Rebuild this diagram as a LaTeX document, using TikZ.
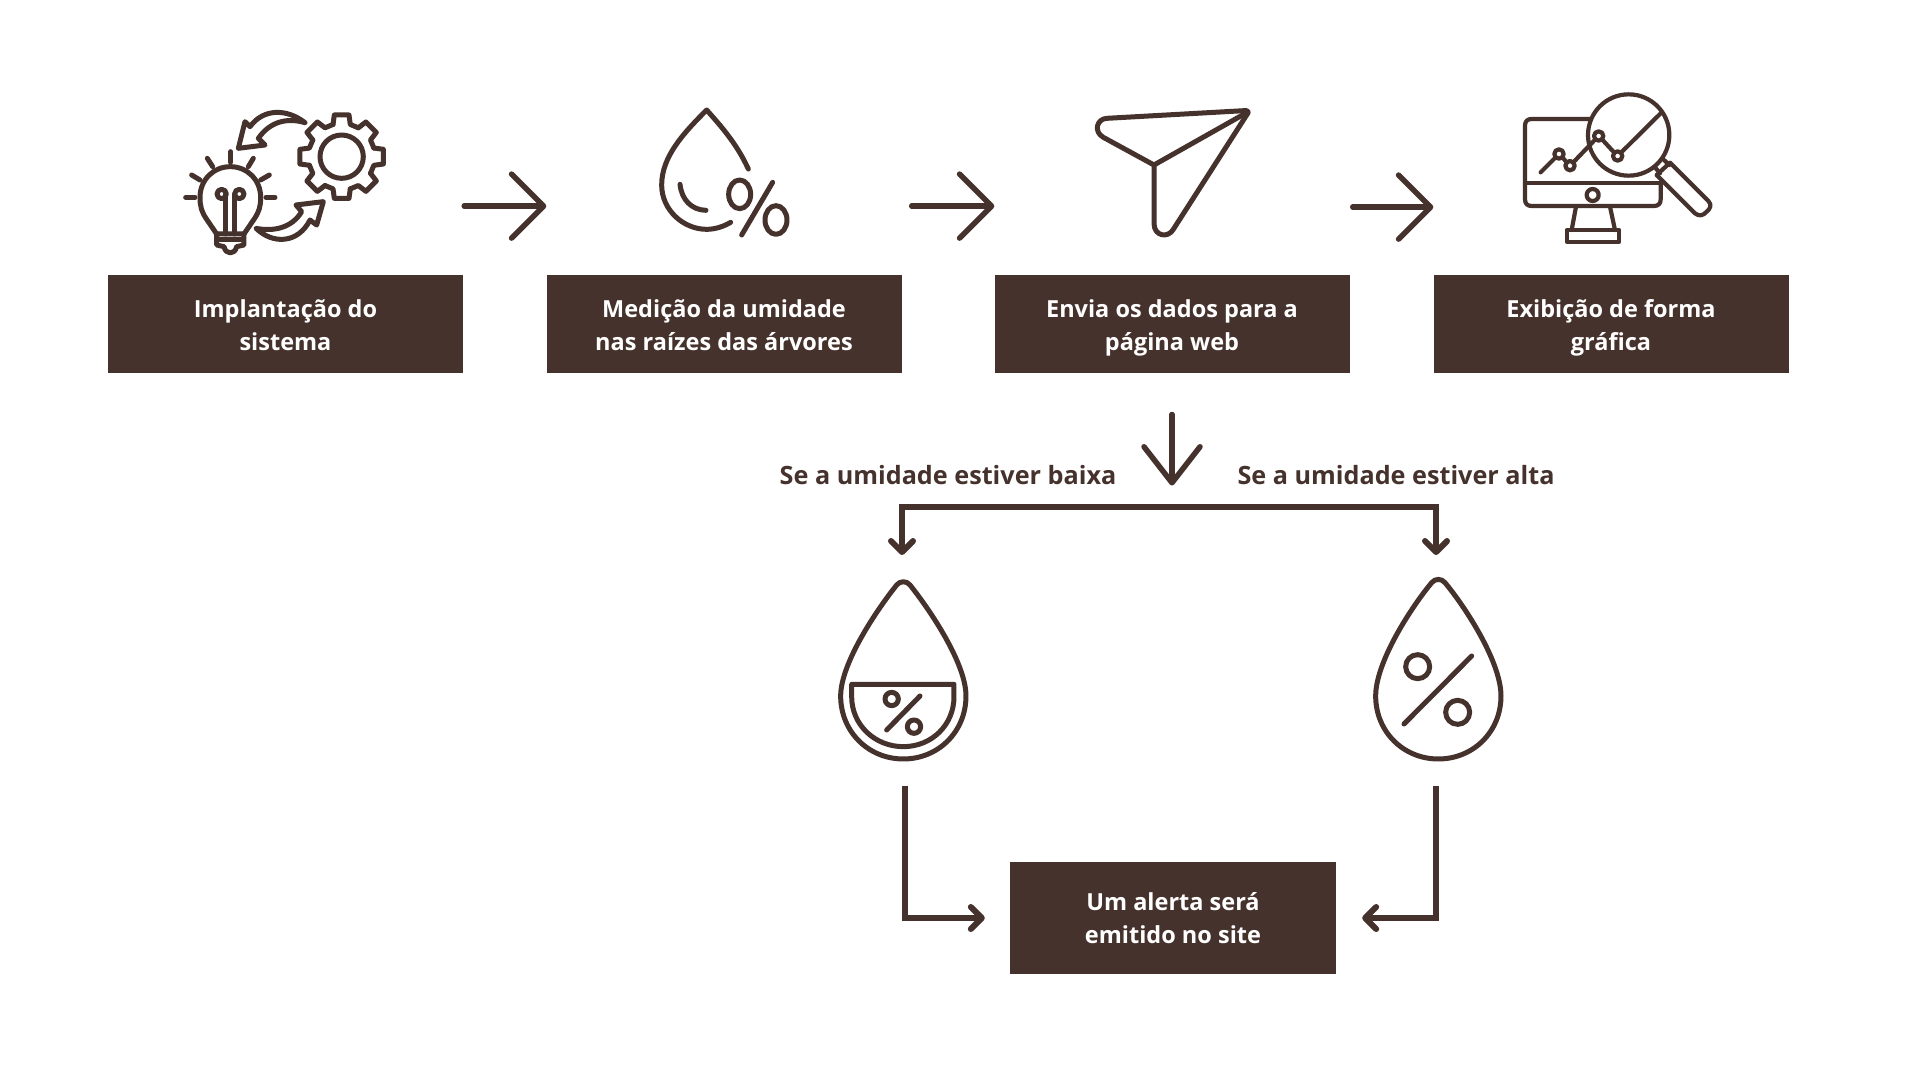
\documentclass[tikz,border=0pt]{standalone}
\usepackage{fontspec}
\setmainfont{Open Sans}
\usetikzlibrary{calc,arrows.meta}
\definecolor{cafe}{HTML}{46322C}
\def\linha{\rule[-7pt]{0pt}{32.6pt}}
\tikzset{
	passo/.style={fill=cafe, text=white, align=center, inner sep=0pt, minimum width=355pt, minimum height=98pt, font=\bfseries\fontsize{23.5}{33}\selectfont},
	rotulo/.style={text=cafe, inner sep=0pt, font=\bfseries\fontsize{25.2}{33}\selectfont},
	setaGrande/.style={draw=cafe, line width=5.5pt, line cap=round, line join=round, -{Straight Barb[length=32pt,width=64pt,line width=5.5pt,round]}},
	setaMedia/.style={draw=cafe, line width=5.5pt, line cap=round, line join=round, -{Straight Barb[length=36pt,width=56pt,line width=5.5pt,round]}},
	setaFina/.style={draw=cafe, line width=6pt, line join=miter, -{Straight Barb[length=11pt,width=22pt,line width=6pt,round]}},
	traco/.style={draw=cafe, line width=5pt, line cap=round, line join=round},
	tracoFino/.style={draw=cafe, line width=4.2pt, line cap=round, line join=round},
}
\begin{document}
\begin{tikzpicture}[x=1pt, y=-1pt]
	\useasboundingbox[fill=white] (0, 0) rectangle (1920, 1080);
	%%%%% CAIXAS %%%%%
	\node[passo] (implantacao) at (285.5, 324.3) {\linha Implantação do\\\linha sistema};
	\node[passo] (medicao) at (724, 324.3) {\linha Medição da umidade\\\linha nas raízes das árvores};
	\node[passo] (envio) at (1172, 324.3) {\linha Envia os dados para a\\\linha página web};
	\node[passo] (exibicao) at (1611, 324.3) {\linha Exibição de forma\\\linha gráfica};
	\node[passo, minimum width=326pt, minimum height=111.5pt] (alerta) at (1173, 918) {\linha Um alerta será\\\linha emitido no site};

	\node[rotulo] (baixa) at (948, 475) {Se a umidade estiver baixa};
	\node[rotulo] (alta) at (1396, 475) {Se a umidade estiver alta};

	%%%%% SETAS %%%%%
	\draw[setaGrande] ($(implantacao.north east)+(1,-69)$) -- ($(medicao.north west)+(0,-69)$);
	\draw[setaGrande] ($(medicao.north east)+(10,-69)$) -- ($(envio.north west)+(0,-69)$);
	\draw[setaGrande] ($(envio.north east)+(3,-68)$) -- ($(exibicao.north west)+(0,-68)$);
	\draw[setaMedia] ($(envio.south)+(0,41)$) -- ($(envio.south)+(0,112)$);

	\coordinate (gotaBaixa) at (905, 786);
	\coordinate (gotaAlta) at (1436, 786);
	\coordinate (ramo) at (1172, 507);
	\draw[setaFina] (ramo) -- (902, 507) -- ++(0, 48);
	\draw[setaFina] (ramo) -- (ramo -| gotaAlta) -- ++(0, 48);
	\draw[setaFina] (gotaBaixa) -- (gotaBaixa |- alerta) -- ($(alerta.west)+(-25,0)$);
	\draw[setaFina] (gotaAlta) -- (gotaAlta |- alerta) -- ($(alerta.east)+(26,0)$);

	%%%%% LAMPADA E ENGRENAGEM %%%%%
	\begin{scope}[shift={(170, 80)}, x=0.3333pt, y=-0.3333pt]
		\draw[traco] (140, 462) -- (108, 415) .. controls (95, 395) and (90, 380) .. (90, 352) .. controls (90, 300) and (130, 260) .. (181, 260) .. controls (232, 260) and (272, 300) .. (272, 352) .. controls (272, 380) and (267, 395) .. (254, 415) -- (222, 462);
		\draw[traco] (140, 462) -- (222, 462) -- (222, 495) -- (200, 500) .. controls (195, 525) and (167, 525) .. (162, 500) -- (140, 495) -- cycle;
		\draw[traco] (142, 480) -- (220, 480);
		\draw[traco] (155, 342) circle (14);
		\draw[traco] (208, 342) circle (14);
		\draw[traco] (168, 342) -- (168, 462);
		\draw[traco] (195, 342) -- (195, 462);
		\draw[traco] (47, 352) -- (75, 352);
		\draw[traco] (65, 285) -- (90, 300);
		\draw[traco] (112, 235) -- (128, 260);
		\draw[traco] (182, 215) -- (182, 247);
		\draw[traco] (250, 235) -- (235, 260);
		\draw[traco] (298, 285) -- (272, 300);
		\draw[traco] (288, 352) -- (315, 352);
		% engrenagem
		\begin{scope}[shift={(515, 230)}]
			\draw[traco] (0, 0) circle (65);
			\foreach \ang in {0, 45, ..., 315}
			{
				\draw[traco] (\ang-15:100) -- (\ang-10:127) -- (\ang+10:127) -- (\ang+15:100) -- (\ang+30:100);
			}
		\end{scope}
		% setas curvas
		\draw[traco] (405, 128) .. controls (350, 85) and (280, 85) .. (240, 140) -- (225, 125) -- (205, 205) -- (285, 195) -- (265, 175) .. controls (300, 125) and (350, 112) .. (405, 128) -- cycle;
		\draw[traco] (258, 445) .. controls (310, 495) and (385, 490) .. (420, 420) -- (440, 435) -- (460, 365) -- (378, 375) -- (395, 395) .. controls (365, 445) and (310, 455) .. (258, 445) -- cycle;
	\end{scope}

	%%%%% GOTA COM PORCENTAGEM %%%%%
	\begin{scope}[shift={(640, 90)}, x=0.3333pt, y=-0.3333pt]
		\draw[traco] (325, 237) .. controls (290, 160) and (240, 105) .. (200, 60) .. controls (130, 130) and (65, 200) .. (65, 285) .. controls (65, 360) and (130, 418) .. (200, 418) .. controls (225, 418) and (250, 410) .. (272, 397);
		\draw[traco] (120, 283) .. controls (125, 330) and (155, 360) .. (198, 361);
		\draw[traco] (299, 313) ellipse (33 and 43);
		\draw[traco] (408, 390) ellipse (33 and 43);
		\draw[traco] (398, 277) -- (305, 435);
	\end{scope}

	%%%%% AVIAO DE PAPEL %%%%%
	\begin{scope}[shift={(1090, 90)}, x=0.3333pt, y=-0.3333pt]
		\draw[traco] (462, 62) -- (50, 85) .. controls (20, 87) and (10, 125) .. (40, 142) -- (192, 225) -- (192, 400) .. controls (192, 440) and (235, 445) .. (250, 418) -- (470, 75) .. controls (480, 65) and (472, 60) .. (462, 62) -- cycle;
		\draw[traco] (192, 225) -- (470, 68);
	\end{scope}

	%%%%% MONITOR E LUPA %%%%%
	\begin{scope}[shift={(1520, 80)}, x=0.3333pt, y=-0.3333pt]
		\draw[tracoFino] (210, 117) -- (35, 117) .. controls (22, 117) and (15, 124) .. (15, 137) -- (15, 358) .. controls (15, 371) and (22, 378) .. (35, 378) -- (402, 378) .. controls (415, 378) and (422, 371) .. (422, 358) -- (422, 310);
		\draw[tracoFino] (15, 310) -- (420, 310);
		\draw[tracoFino] (218, 345) circle (18);
		\draw[tracoFino] (168, 380) -- (155, 450);
		\draw[tracoFino] (270, 380) -- (285, 450);
		\draw[tracoFino] (140, 450) rectangle (298, 485);
		\draw[tracoFino] (326, 165) circle (122);
		\draw[tracoFino] (410, 285) -- (450, 248) -- (565, 363) .. controls (577, 375) and (570, 387) .. (560, 395) .. controls (550, 407) and (537, 410) .. (525, 400) -- cycle;
		\draw[tracoFino] (432, 240) -- (448, 255);
		\draw[tracoFino] (405, 262) -- (420, 280);
		\draw[tracoFino] (62, 277) -- (107, 232);
		\draw[tracoFino] (127, 232) -- (141, 248);
		\draw[tracoFino] (159, 248) -- (226, 178);
		\draw[tracoFino] (246, 178) -- (283, 218);
		\draw[tracoFino] (303, 218) -- (425, 97);
		\draw[tracoFino] (117, 222) circle (14);
		\draw[tracoFino] (150, 257) circle (14);
		\draw[tracoFino] (236, 168) circle (14);
		\draw[tracoFino] (293, 228) circle (14);
	\end{scope}

	%%%%% GOTA BAIXA %%%%%
	\begin{scope}[shift={(830, 570)}, x=0.3333pt, y=-0.3333pt]
		\draw[traco] (200, 45) .. controls (210, 32) and (230, 32) .. (240, 45) .. controls (300, 120) and (408, 280) .. (408, 378) .. controls (408, 485) and (325, 567) .. (220, 567) .. controls (115, 567) and (32, 485) .. (32, 378) .. controls (32, 280) and (140, 120) .. (200, 45) -- cycle;
		\draw[traco] (65, 343) -- (372, 343) -- (372, 380) .. controls (372, 465) and (305, 530) .. (220, 530) .. controls (135, 530) and (65, 465) .. (65, 380) -- cycle;
		\draw[traco] (185, 387) circle (20);
		\draw[traco] (252, 470) circle (20);
		\draw[traco] (270, 378) -- (170, 480);
	\end{scope}

	%%%%% GOTA ALTA %%%%%
	\begin{scope}[shift={(1370, 570)}, x=0.3333pt, y=-0.3333pt]
		\draw[traco] (185, 38) .. controls (195, 25) and (215, 25) .. (225, 38) .. controls (285, 110) and (393, 275) .. (393, 378) .. controls (393, 485) and (310, 567) .. (205, 567) .. controls (100, 567) and (17, 485) .. (17, 378) .. controls (17, 275) and (125, 110) .. (185, 38) -- cycle;
		\draw[traco] (143, 290) circle (36);
		\draw[traco] (263, 427) circle (36);
		\draw[traco] (305, 258) -- (102, 462);
	\end{scope}
\end{tikzpicture}
\end{document}
